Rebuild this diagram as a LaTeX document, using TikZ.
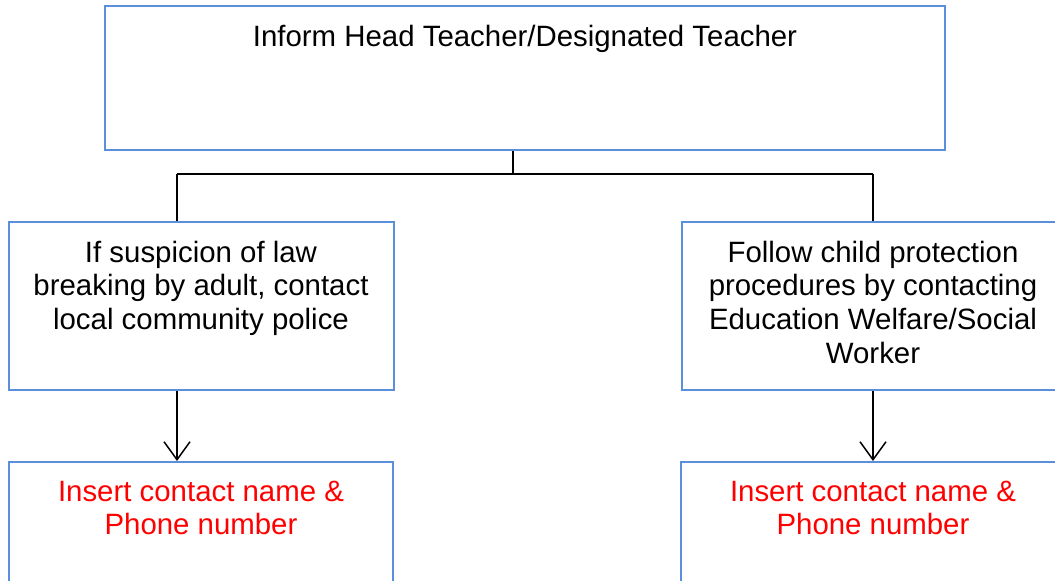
\documentclass[tikz,border=0pt]{standalone}
\usepackage{fontspec}
\setmainfont{Liberation Sans}
\usetikzlibrary{arrows.meta}
\definecolor{boxblue}{HTML}{5B8EDC}
\definecolor{redtext}{HTML}{FF0000}
\begin{document}
\begin{tikzpicture}[x=1pt,y=1pt,
  boxstyle/.style={draw=boxblue, line width=2pt, rectangle, inner sep=0pt},
  txtstyle/.style={anchor=north, inner sep=0pt, align=center, font=\fontsize{29.4}{33.8}\selectfont},
  redtxt/.style={txtstyle, text=redtext},
  link/.style={draw=black, line width=1.5pt},
  arr/.style={link, -{Straight Barb[length=18pt,width=26pt,line width=1.5pt]}}]
\clip (0,0) rectangle (1055,-581);
\fill[white] (0,0) rectangle (1055,-581);
% boxes
\node[boxstyle, minimum width=840pt, minimum height=144pt] (top) at (525,-78) {};
\node[boxstyle, minimum width=385pt, minimum height=168pt] (left) at (201.5,-306) {};
\node[boxstyle, minimum width=382pt, minimum height=168pt] (right) at (873,-306) {};
\node[boxstyle, minimum width=384pt, minimum height=150pt] (bl) at (201,-537) {};
\node[boxstyle, minimum width=383pt, minimum height=150pt] (br) at (872.5,-537) {};
% texts
\node[txtstyle] (ttop) at (525,-25) {Inform Head Teacher/Designated Teacher};
\node[txtstyle] (tleft) at (201,-240.5) {If suspicion of law\\breaking by adult, contact\\local community police};
\node[txtstyle] (tright) at (873,-240.5) {Follow child protection\\procedures by contacting\\Education Welfare/Social\\Worker};
\node[redtxt] (tbl) at (201,-480.5) {Insert contact name \&\\Phone number};
\node[redtxt] (tbr) at (873,-480.5) {Insert contact name \&\\Phone number};
% connectors
\coordinate (jx) at (513,0);
\coordinate (jy) at (0,-174);
\coordinate (lx) at (177,0);
\coordinate (rx) at (873,0);
\draw[link] (top.south -| jx) -- (jx |- jy) (lx |- jy) -- (rx |- jy);
\draw[link] (lx |- jy) -- (left.north -| lx);
\draw[link] (rx |- jy) -- (right.north -| rx);
\draw[arr] (left.south -| lx) -- (bl.north -| lx);
\draw[arr] (right.south -| rx) -- (br.north -| rx);
\end{tikzpicture}
\end{document}
